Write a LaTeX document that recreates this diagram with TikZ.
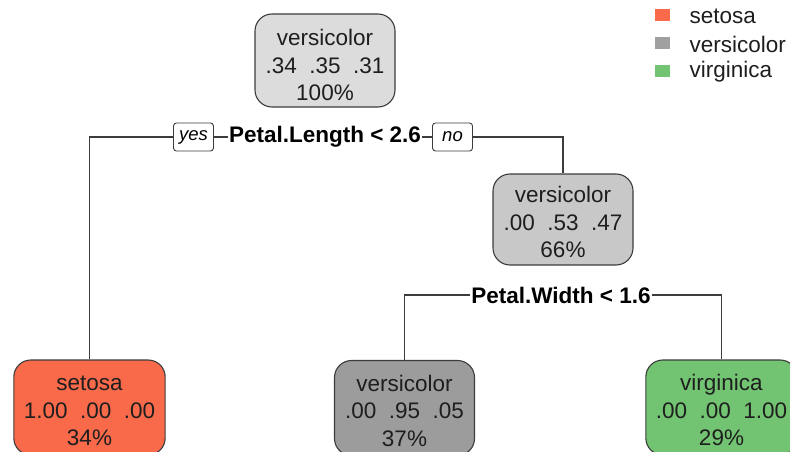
\documentclass[tikz,border=0pt]{standalone}
\usepackage{fontspec}
\setmainfont{Liberation Sans}
\usepackage{tikz}
\definecolor{kirmizi}{HTML}{F96A4B}
\definecolor{yesil}{HTML}{72C472}
\definecolor{griAcik}{HTML}{DCDCDC}
\definecolor{griOrta}{HTML}{C8C8C8}
\definecolor{griKoyu}{HTML}{9C9C9C}
\definecolor{griLejant}{HTML}{A0A0A0}
\definecolor{cizgi}{HTML}{3C3C3C}
\definecolor{yazi}{HTML}{1E1E1E}
\newcommand{\ustpay}[1]{\rule{0pt}{#1}}

\begin{document}
\begin{tikzpicture}[x=1pt,y=-1pt,
  dugum/.style={draw=cizgi,line width=1.1pt,rounded corners=17pt,align=center,
    minimum width=140pt,minimum height=93pt,inner xsep=10pt,inner ysep=0pt,
    text=yazi,font=\fontsize{22.5}{27.5}\selectfont},
  kutu/.style={draw=cizgi,line width=0.9pt,rounded corners=3pt,fill=white,
    font=\fontsize{18.5}{20}\selectfont\itshape,minimum width=40pt,minimum height=28pt,inner sep=0pt},
  bolme/.style={font=\fontsize{22.5}{24}\selectfont\bfseries,inner xsep=1pt,inner ysep=2pt},
  kenar/.style={cizgi,line width=1.1pt}]
\useasboundingbox (0,0) rectangle (790,452);
\node[dugum,fill=griAcik] (kok) at (325,60.5) {\ustpay{26pt}versicolor\\.34~~.35~~.31\\100\%};
\node[bolme] (bol1) at (325,137) {Petal.Length < 2.6};
\node[kutu] (evet) at (193.5,137) {yes};
\node[kutu] (hayir) at (452.5,137) {no};
\node[dugum,fill=griOrta,minimum height=91pt] (sag) at (563,219.5) {\ustpay{22pt}versicolor\\.00~~.53~~.47\\66\%};
\node[bolme] (bol2) at (561,295) {Petal.Width < 1.6};
\node[dugum,fill=kirmizi,minimum height=95pt] (setosa) at (89.5,407.5) {\ustpay{22pt}setosa\\1.00~~.00~~.00\\34\%};
\node[dugum,fill=griKoyu,minimum height=95pt] (vers) at (404.5,408) {\ustpay{22pt}versicolor\\.00~~.95~~.05\\37\%};
\node[dugum,fill=yesil,minimum height=95pt] (virg) at (721.5,407.5) {\ustpay{22pt}virginica\\.00~~.00~~1.00\\29\%};
\draw[kenar] (setosa.north) |- (evet.west);
\draw[kenar] (evet.east) -- (bol1.west);
\draw[kenar] (bol1.east) -- (hayir.west);
\draw[kenar] (hayir.east) -| (sag.north);
\draw[kenar] (vers.north) |- (bol2.west);
\draw[kenar] (bol2.east) -| (virg.north);
\fill[kirmizi] (655,9) rectangle (670,21);
\fill[griLejant] (655,37) rectangle (670,49);
\fill[yesil] (655,65) rectangle (670,77);
\node[anchor=west,text=yazi,font=\fontsize{22.5}{24}\selectfont] (lej1) at (686,16) {setosa};
\node[anchor=west,text=yazi,font=\fontsize{22.5}{24}\selectfont] (lej2) at (686,44) {versicolor};
\node[anchor=west,text=yazi,font=\fontsize{22.5}{24}\selectfont] (lej3) at (686,72) {virginica};
\end{tikzpicture}
\end{document}
